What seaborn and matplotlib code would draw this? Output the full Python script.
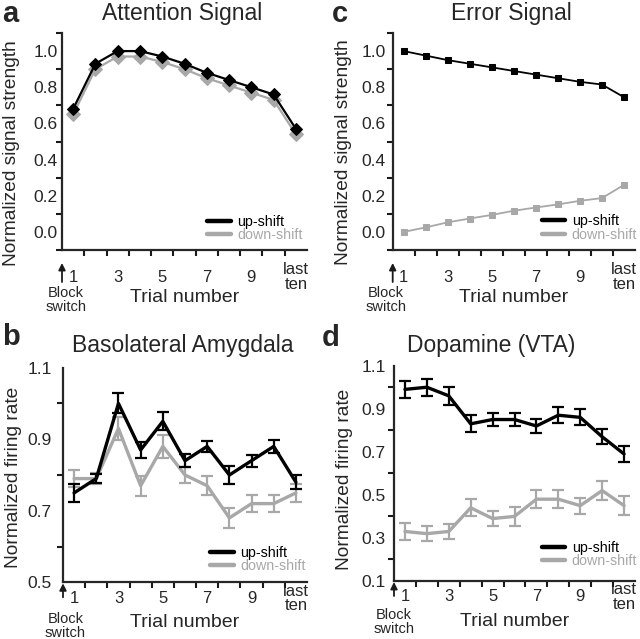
import matplotlib
matplotlib.use("Agg")
import matplotlib.pyplot as plt
import seaborn as sns
from matplotlib import transforms
from matplotlib.lines import Line2D

# trial positions (11 = "last ten")
trials = [1, 2, 3, 4, 5, 6, 7, 8, 9, 10, 11]
tick_pos = [1, 3, 5, 7, 9, 11]
tick_labels = ["1", "3", "5", "7", "9", "last\nten"]

# a - attention signal
attn_up = [0.68, 0.93, 1.00, 1.00, 0.97, 0.93, 0.88, 0.84, 0.80, 0.76, 0.57]
attn_down = [0.65, 0.90, 0.97, 0.97, 0.94, 0.90, 0.85, 0.81, 0.77, 0.73, 0.54]

# c - error signal
err_up = [1.00, 0.975, 0.95, 0.93, 0.91, 0.89, 0.87, 0.85, 0.83, 0.815, 0.745]
err_down = [0.00, 0.025, 0.053, 0.074, 0.094, 0.117, 0.135, 0.152, 0.172, 0.187, 0.26]

# b - basolateral amygdala (mean, sem)
bla_up = [0.75, 0.79, 1.00, 0.87, 0.95, 0.84, 0.88, 0.80, 0.84, 0.88, 0.78]
bla_up_sem = [0.025, 0.012, 0.028, 0.023, 0.025, 0.019, 0.016, 0.024, 0.017, 0.019, 0.019]
bla_down = [0.79, 0.79, 0.93, 0.77, 0.88, 0.80, 0.77, 0.68, 0.72, 0.72, 0.75]
bla_down_sem = [0.023, 0.015, 0.033, 0.028, 0.033, 0.023, 0.026, 0.028, 0.023, 0.023, 0.025]

# d - dopamine (VTA)
vta_up = [0.99, 1.00, 0.96, 0.83, 0.85, 0.85, 0.82, 0.87, 0.86, 0.77, 0.69]
vta_up_sem = [0.039, 0.039, 0.043, 0.039, 0.031, 0.031, 0.031, 0.037, 0.037, 0.035, 0.035]
vta_down = [0.33, 0.32, 0.33, 0.44, 0.39, 0.40, 0.48, 0.48, 0.45, 0.52, 0.45]
vta_down_sem = [0.040, 0.036, 0.037, 0.039, 0.035, 0.046, 0.043, 0.043, 0.037, 0.045, 0.043]

BLACK = "#000000"
GRAY = "#a8a8a8"

sns.set_theme(style="ticks")
plt.rcParams["font.family"] = ["Liberation Sans", "DejaVu Sans"]
plt.rcParams["axes.linewidth"] = 1.6

fig = plt.figure(figsize=(6.4, 6.39), dpi=100)
H = 639.0


def px_axes(left, top, right, bottom):
    return fig.add_axes([left / 640, 1 - bottom / H, (right - left) / 640, (bottom - top) / H])


ax_a = px_axes(62, 33, 307, 250)
ax_c = px_axes(392.7, 33, 635, 250)
ax_b = px_axes(63, 367.7, 307, 582.3)
ax_d = px_axes(394, 365.7, 635, 581)


def style_axes(ax, ylim, ylabels, yminor, title, title_x, title_pad, ylabel, ylab_y,
               ypad, xpad, xlab_off, arrow, block_x, block_off, letter, letter_xy):
    sns.despine(ax=ax)
    ax.set_xlim(0.5, 11.5)
    ax.set_ylim(*ylim)
    ax.set_xticks(tick_pos)
    ax.set_xticklabels(tick_labels, fontsize=12, linespacing=0.95)
    for t in ax.get_xticklabels():
        t.set_va("center")
    ax.set_xticks([i + 0.5 for i in range(1, 11)], minor=True)
    ax.set_yticks(ylabels)
    ax.set_yticklabels([f"{v:.1f}" for v in ylabels], fontsize=12.5)
    ax.set_yticks(yminor, minor=True)
    ax.tick_params(which="major", axis="x", length=0, pad=xpad)
    ax.tick_params(which="major", axis="y", length=0, pad=ypad)
    ax.tick_params(which="minor", length=4, width=1.5, direction="out", color="k")
    ax.set_title(title, fontsize=16.5, pad=title_pad, x=title_x)
    ax.set_ylabel(ylabel, fontsize=13.8)
    ax.yaxis.set_label_coords(-0.17, ylab_y)
    ax.set_xlabel("Trial number", fontsize=14, va="center")
    h = ax.get_position().height * H
    ax.xaxis.set_label_coords(0.5, -xlab_off / h)
    # block switch arrow and note
    tr = transforms.blended_transform_factory(ax.transData, ax.transAxes)
    ax.annotate("", xy=(0.5, -arrow[0] / h), xytext=(0.5, -arrow[1] / h),
                xycoords=tr, textcoords=tr, annotation_clip=False,
                arrowprops=dict(arrowstyle="-|>", color="k", lw=1.3, mutation_scale=10,
                                shrinkA=0, shrinkB=0))
    ax.text(block_x, -block_off / h, "Block\nswitch", transform=tr, ha="center",
            va="center", fontsize=10.5, linespacing=1.0, clip_on=False)
    fig.text(letter_xy[0] / 640, 1 - letter_xy[1] / H, letter, fontsize=21,
             fontweight="bold", va="baseline")


def add_legend(ax, x_px, top_px):
    handles = [Line2D([], [], color=BLACK, lw=3.2), Line2D([], [], color=GRAY, lw=3.2)]
    leg = ax.legend(handles, ["up-shift", "down-shift"], loc="upper left",
                    bbox_to_anchor=(x_px / 640, 1 - top_px / H),
                    bbox_transform=fig.transFigure, frameon=False, fontsize=10.3,
                    handlelength=1.65, handletextpad=0.45, labelspacing=-0.05,
                    borderpad=0, borderaxespad=0)
    leg.get_texts()[0].set_color(BLACK)
    leg.get_texts()[1].set_color(GRAY)


# a
sns.lineplot(x=trials, y=attn_down, ax=ax_a, color=GRAY, marker="D", markersize=7,
             markeredgecolor=GRAY, linewidth=1.6)
sns.lineplot(x=trials, y=attn_up, ax=ax_a, color=BLACK, marker="D", markersize=6,
             markeredgecolor=BLACK, linewidth=1.6)
style_axes(ax_a, (-0.1, 1.1), [0.0, 0.2, 0.4, 0.6, 0.8, 1.0],
           [round(-0.1 + 0.1 * i, 1) for i in range(13)],
           "Attention Signal", 0.49, 9.4, "Normalized signal strength", 0.447,
           3, 19.5, 47, (13, 32), 0.67, 50, "a", (2, 22))
add_legend(ax_a, 207, 215)

# c
sns.lineplot(x=trials, y=err_down, ax=ax_c, color=GRAY, marker="s", markersize=5,
             markeredgecolor=GRAY, linewidth=1.3)
sns.lineplot(x=trials, y=err_up, ax=ax_c, color=BLACK, marker="s", markersize=5,
             markeredgecolor=BLACK, linewidth=1.3)
style_axes(ax_c, (-0.1, 1.1), [0.0, 0.2, 0.4, 0.6, 0.8, 1.0],
           [round(-0.1 + 0.1 * i, 1) for i in range(13)],
           "Error Signal", 0.49, 9.4, "Normalized signal strength", 0.45,
           5, 19.5, 48, (13, 32), 0.19, 50, "c", (332, 22))
add_legend(ax_c, 541.7, 214.3)

# b
ax_b.errorbar(trials, bla_down, yerr=bla_down_sem, fmt="none", ecolor=GRAY,
              elinewidth=1.6, capsize=4, capthick=1.6)
sns.lineplot(x=trials, y=bla_down, ax=ax_b, color=GRAY, linewidth=2.4)
ax_b.errorbar(trials, bla_up, yerr=bla_up_sem, fmt="none", ecolor=BLACK,
              elinewidth=1.6, capsize=4, capthick=1.6)
sns.lineplot(x=trials, y=bla_up, ax=ax_b, color=BLACK, linewidth=2.4)
style_axes(ax_b, (0.5, 1.1), [0.5, 0.7, 0.9, 1.1], [0.6, 0.8, 1.0, 1.1],
           "Basolateral Amygdala", 0.49, 11.3, "Normalized firing rate", 0.49,
           8, 11.5, 40, (1, 15), 0.61, 44, "b", (2, 345))
add_legend(ax_b, 210, 546)

# d
ax_d.errorbar(trials, vta_down, yerr=vta_down_sem, fmt="none", ecolor=GRAY,
              elinewidth=1.6, capsize=4, capthick=1.6)
sns.lineplot(x=trials, y=vta_down, ax=ax_d, color=GRAY, linewidth=2.4)
ax_d.errorbar(trials, vta_up, yerr=vta_up_sem, fmt="none", ecolor=BLACK,
              elinewidth=1.6, capsize=4, capthick=1.6)
sns.lineplot(x=trials, y=vta_up, ax=ax_d, color=BLACK, linewidth=2.4)
style_axes(ax_d, (0.1, 1.1), [0.1, 0.3, 0.5, 0.7, 0.9, 1.1],
           [round(0.1 + 0.1 * i, 1) for i in range(11)],
           "Dopamine (VTA)", 0.405, 9.9, "Normalized firing rate", 0.474,
           6, 11.5, 41, (1, 15), 0.5, 41, "d", (322, 346))
add_legend(ax_d, 541.7, 541)

fig.savefig("out.png", dpi=100)
